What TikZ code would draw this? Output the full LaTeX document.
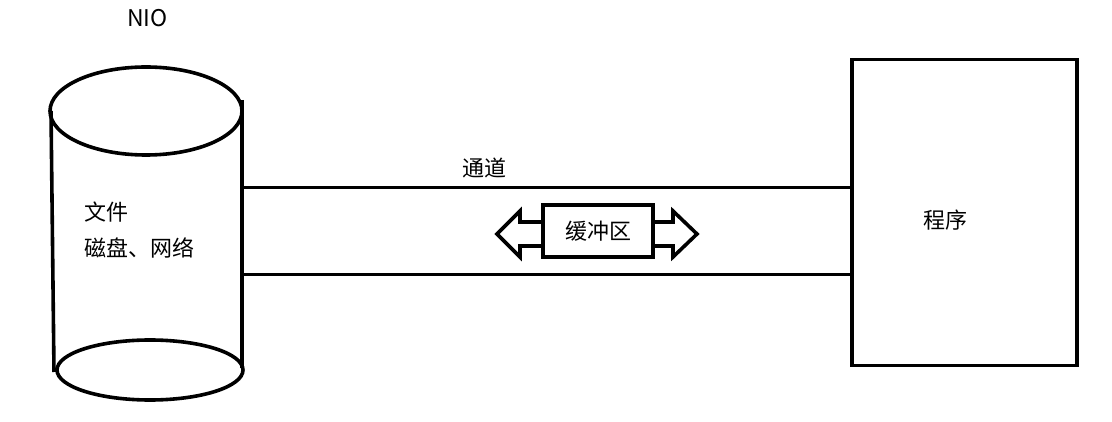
\documentclass[tikz,border=0pt]{standalone}
\usepackage{fontspec}
\setmainfont{Noto Sans CJK SC}
\begin{document}
\begin{tikzpicture}[x=1pt,y=-1pt,
  thick line/.style={line width=3.6pt},
  chan line/.style={line width=3pt},
  lbl/.style={font=\fontsize{22}{26}\selectfont, inner sep=0pt},
  boxnode/.style={draw, line width=3.6pt, inner sep=0pt}]
\useasboundingbox (0,0) rectangle (1112,422);
% title
\node[font=\fontsize{23}{27}\selectfont, inner sep=0pt] (nio) at (147.5,18) {NIO};
% cylinder
\draw[thick line] (146,111) ellipse [x radius=96, y radius=44];
\draw[thick line] (51,111) -- (54,372);
\draw[thick line] (242,100) -- (242,368);
\draw[thick line] (150,370) ellipse [x radius=93, y radius=30];
\coordinate (cylT) at (242,188);
\coordinate (cylB) at (242,275);
\node[lbl, anchor=west] (file) at (84,212) {文件};
\node[lbl, anchor=west] (disk) at (84,248) {磁盘、网络};
% program box
\node[boxnode, minimum width=225pt, minimum height=306pt] (prog) at (964.5,212.5) {};
\node[lbl] (progtxt) at (945,220) {程序};
% channel
\draw[chan line] (cylT) -- (cylT -| prog.west);
\draw[chan line] (cylB) -- (cylB -| prog.west);
\node[lbl] (chan) at (484,168) {通道};
% buffer
\node[boxnode, minimum width=110pt, minimum height=52pt, font=\fontsize{22}{26}\selectfont] (buf) at (598,231) {缓冲区};
\draw[thick line, line join=miter] (buf.west |- 0,222) -- (520,222) -- (520,211) -- (497,234) -- (520,257) -- (520,246) -- (buf.west |- 0,246);
\draw[thick line, line join=miter] (buf.east |- 0,222) -- (673,222) -- (673,211) -- (697,234) -- (673,257) -- (673,246) -- (buf.east |- 0,246);
\end{tikzpicture}
\end{document}
